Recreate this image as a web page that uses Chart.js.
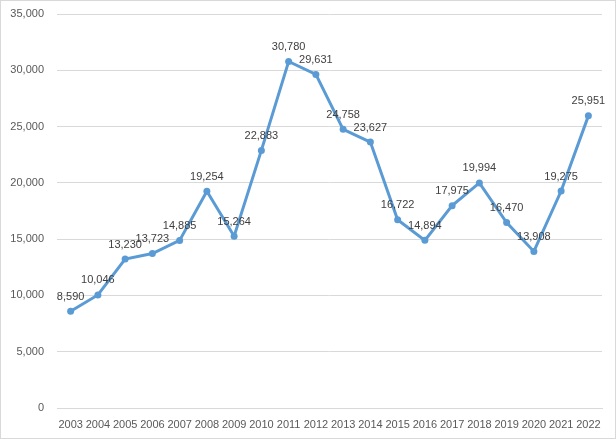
<!DOCTYPE html>
<html>
<head>
<meta charset="utf-8">
<script src="https://cdn.jsdelivr.net/npm/chart.js@4"></script>
<style>
  html, body { margin: 0; padding: 0; background: #fff; }
  #wrap { position: relative; width: 614px; height: 437px; border: 1px solid #d9d9d9; }
</style>
</head>
<body>
<div id="wrap"><canvas id="myChart" width="614" height="437"></canvas></div>
<script>
let years = ['2003', '2004', '2005', '2006', '2007', '2008', '2009', '2010', '2011', '2012',
             '2013', '2014', '2015', '2016', '2017', '2018', '2019', '2020', '2021', '2022'];
let counts = [8590, 10046, 13230, 13723, 14885, 19254, 15264, 22883, 30780, 29631,
              24758, 23627, 16722, 14894, 17975, 19994, 16470, 13908, 19275, 25951];
let yTicks = [0, 5000, 10000, 15000, 20000, 25000, 30000, 35000];

let fmt = v => v.toLocaleString('en-US');
let fam = '"Liberation Sans", Arial, sans-serif';

// draw the value labels above each point
let pointLabels = {
    id: 'pointLabels',
    afterDatasetsDraw(chart) {
        let c = chart.ctx;
        let meta = chart.getDatasetMeta(0);
        c.save();
        c.font = '11px ' + fam;
        c.fillStyle = '#404040';
        c.textAlign = 'center';
        c.textBaseline = 'bottom';
        meta.data.forEach((pt, i) => {
            c.fillText(fmt(counts[i]), pt.x, pt.y - 9);
        });
        c.restore();
    }
};

let ctx = document.getElementById('myChart');
let myChart = new Chart(ctx, {
    type: 'line',
    data: {
        labels: years,
        datasets: [{
            data: counts,
            borderColor: '#5B9BD5',
            backgroundColor: '#5B9BD5',
            borderWidth: 3,
            pointRadius: 3.5,
            pointBorderWidth: 0,
            tension: 0
        }]
    },
    options: {
        responsive: false,
        animation: false,
        layout: { padding: { top: 13, right: 13, left: 0, bottom: 0 } },
        plugins: {
            legend: { display: false },
            tooltip: { enabled: false }
        },
        scales: {
            x: {
                offset: true,
                grid: { display: false, drawTicks: false },
                border: { color: '#d9d9d9' },
                ticks: {
                    color: '#595959',
                    font: { size: 11, family: fam },
                    maxRotation: 0,
                    autoSkip: false,
                    padding: 10
                },
                afterFit: s => { s.height = 30; }
            },
            y: {
                min: 0,
                max: 35000,
                afterBuildTicks: s => { s.ticks = yTicks.map(v => ({ value: v })); },
                grid: { color: '#d9d9d9', drawTicks: false },
                border: { display: false },
                ticks: {
                    color: '#595959',
                    font: { size: 11, family: fam },
                    padding: 13,
                    callback: v => fmt(v)
                },
                afterFit: s => { s.width = 56; s.paddingTop = 0; s.paddingBottom = 0; }
            }
        }
    },
    plugins: [pointLabels]
});
</script>
</body>
</html>
